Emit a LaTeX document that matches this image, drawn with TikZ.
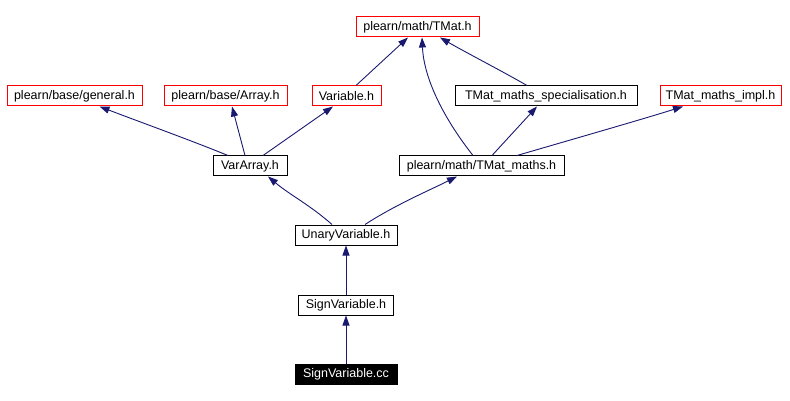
\documentclass[tikz,border=0pt]{standalone}
\usepackage{fontspec}
\setmainfont{Liberation Sans}
\usetikzlibrary{arrows.meta}
\definecolor{edgeblue}{HTML}{191970}
\definecolor{boxred}{HTML}{FF0000}
\begin{document}
\begin{tikzpicture}[x=1pt,y=-1pt,
  hdr/.style={draw, line width=1pt, minimum height=20pt, inner sep=0pt,
    font=\fontsize{12.5}{15}\selectfont, fill=white},
  ext/.style={hdr, draw=boxred},
  loc/.style={hdr, draw=black},
  src/.style={hdr, draw=black, fill=black, text=white},
  dep/.style={draw=edgeblue, line width=0.9pt, -{Triangle[length=10pt,width=7pt]}}]
\useasboundingbox[fill=white] (0,0) rectangle (790,401);
% nodes
\node[ext, minimum width=123pt] (tmat)    at (417.5,27) {plearn/math/TMat.h};
\node[ext, minimum width=135pt] (general) at (74.5,96)  {plearn/base/general.h};
\node[ext, minimum width=123pt] (array)   at (225.5,96) {plearn/base/Array.h};
\node[ext, minimum width=69pt]  (variable) at (346.5,96) {Variable.h};
\node[loc, minimum width=182pt] (spec)    at (546,96)   {TMat\_maths\_specialisation.h};
\node[ext, minimum width=121pt] (impl)    at (720.5,96) {TMat\_maths\_impl.h};
\node[loc, minimum width=74pt]  (vararray) at (250,166) {VarArray.h};
\node[loc, minimum width=165pt] (tmaths)  at (481.5,166) {plearn/math/TMat\_maths.h};
\node[loc, minimum width=102pt] (unary)   at (346,235)  {UnaryVariable.h};
\node[loc, minimum width=95pt]  (sign)    at (346,305)  {SignVariable.h};
\node[src, minimum width=102pt] (cc)      at (346,374.5) {SignVariable.cc};
% edges
\draw[dep] ([xshift=-22pt]vararray.north) .. controls (190,140) and (140,122) .. ([xshift=25pt]general.south);
\draw[dep] ([xshift=-5pt]vararray.north) -- ([xshift=6.5pt]array.south);
\draw[dep] ([xshift=13pt]vararray.north) -- ([xshift=-13.5pt]variable.south);
\draw[dep] ([xshift=9.5pt]variable.north) -- ([xshift=-9.5pt]tmat.south);
\draw[dep] ([xshift=-8.5pt]tmaths.north) .. controls (445,120) and (424,80) .. ([xshift=4.5pt]tmat.south);
\draw[dep] ([xshift=-19pt]spec.north) .. controls (500,70) and (465,52) .. ([xshift=22.5pt]tmat.south);
\draw[dep] ([xshift=10.5pt]tmaths.north) -- ([xshift=-9pt]spec.south);
\draw[dep] ([xshift=35.5pt]tmaths.north) .. controls (570,140) and (640,120) .. ([xshift=-37.5pt]impl.south);
\draw[dep] ([xshift=-14pt]unary.north) .. controls (310,205) and (290,195) .. ([xshift=18pt]vararray.south);
\draw[dep] ([xshift=19pt]unary.north) .. controls (395,205) and (430,190) .. ([xshift=-24.5pt]tmaths.south);
\draw[dep] (sign.north) -- (unary.south);
\draw[dep] (cc.north) -- (sign.south);
\end{tikzpicture}
\end{document}
